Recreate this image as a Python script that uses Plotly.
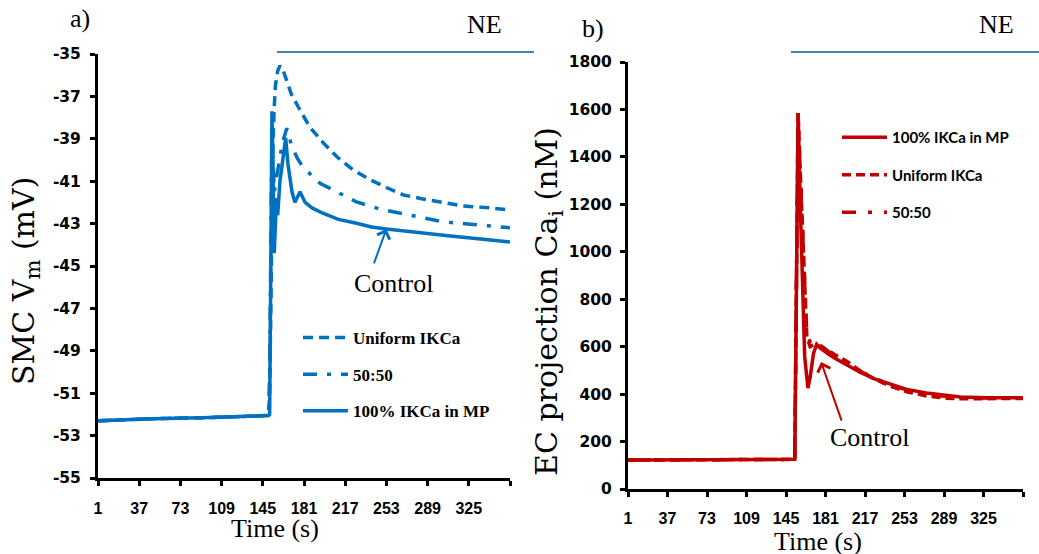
import plotly.graph_objects as go

# ---------------- panel a) : SMC membrane potential (mV) ----------------
t_a_uniform = [1, 50, 100, 150, 151, 152, 153, 154, 155, 156, 158, 160, 163, 166, 170,
               176, 186, 198, 210, 224, 239, 254, 268, 285, 303, 320, 344, 361]
v_a_uniform = [-52.3, -52.2, -52.15, -52.05, -51.0, -47.0, -42.0, -39.0, -37.5, -36.5,
               -35.8, -35.55, -35.8, -36.3, -36.9, -37.5, -38.44, -39.2, -39.86, -40.47,
               -40.94, -41.32, -41.65, -41.84, -42.03, -42.17, -42.26, -42.36]

t_a_5050 = [1, 50, 100, 150, 151, 152, 153, 155, 158, 162, 166, 170, 175, 180, 195, 211,
            227, 247, 265, 285, 303, 324, 344, 361]
v_a_5050 = [-52.3, -52.2, -52.15, -52.05, -50.0, -44.0, -38.6, -41.5, -40.4, -39.2, -38.5,
            -39.3, -39.9, -40.33, -41.1, -41.56, -41.98, -42.31, -42.5, -42.74, -42.92,
            -43.02, -43.11, -43.2]

t_a_mp = [1, 50, 100, 150, 151, 152, 153, 154, 155, 157, 158, 160, 163, 165, 167, 170.5,
          173, 177.5, 182, 188, 197, 211, 226, 240, 253, 283, 309, 344, 361]
v_a_mp = [-52.3, -52.2, -52.15, -52.05, -52.0, -45.0, -37.7, -41.0, -44.4, -41.8, -42.6,
          -41.0, -39.6, -38.96, -40.2, -41.5, -42.0, -41.5, -42.0, -42.26, -42.5, -42.8,
          -42.97, -43.16, -43.25, -43.44, -43.58, -43.77, -43.87]

# ---------------- panel b) : EC projection Ca_i (nM) ----------------
t_b_mp = [1, 50, 100, 150, 153, 154.5, 156, 158, 160, 162, 165, 167, 170, 173, 176, 180,
          185, 190, 197, 205, 212, 225, 242, 255, 273, 290, 304, 330, 361]
c_b_mp = [122, 122, 122, 122, 125, 850, 1585, 1200, 850, 560, 425, 470, 570, 610, 595,
          580, 565, 550, 531, 512, 493, 465, 438, 420, 405, 394, 388, 385, 384]

t_b_uniform = [1, 50, 100, 150, 153, 154.5, 156, 158, 160, 162, 164, 167, 171, 176, 183,
               190, 200, 212, 225, 242, 255, 273, 290, 304, 330, 361]
c_b_uniform = [122, 122, 122, 122, 125, 850, 1585, 1340, 1100, 860, 640, 600, 610, 600,
               585, 565, 540, 500, 465, 430, 410, 392, 383, 380, 380, 382]

t_b_5050 = [1, 50, 100, 150, 153, 154.5, 156, 158, 160, 162, 164, 168, 172, 178, 185,
            195, 212, 242, 273, 304, 330, 361]
c_b_5050 = [122, 122, 122, 122, 125, 850, 1585, 1330, 1080, 850, 650, 610, 620, 600, 575,
            545, 497, 434, 398, 385, 383, 383]

time_ticks = [1, 37, 73, 109, 145, 181, 217, 253, 289, 325, 361]
time_labels = ["1", "37", "73", "109", "145", "181", "217", "253", "289", "325", ""]
vm_ticks = list(range(-55, -34, 2))
vm_labels = [str(v) for v in vm_ticks]
ca_ticks = list(range(0, 1801, 200))
ca_labels = [str(v) for v in ca_ticks]

BLUE = "#0070c0"
RED = "#c00000"
NE_BLUE = "#4a7ebb"
W, H = 1039, 554


def px(x):
    return x / W


def py(y):
    return 1 - y / H


fig = go.Figure()

# panel a traces
fig.add_trace(go.Scatter(x=t_a_uniform, y=v_a_uniform, mode="lines", name="Uniform IKCa",
                         line=dict(color=BLUE, width=3.5, dash="10px,6px"),
                         xaxis="x", yaxis="y", legend="legend", legendgroup="a1", legendrank=1))
fig.add_trace(go.Scatter(x=t_a_5050, y=v_a_5050, mode="lines", name="50:50",
                         line=dict(color=BLUE, width=3.5, dash="14px,10px,4px,10px"),
                         xaxis="x", yaxis="y", legend="legend", legendgroup="a2", legendrank=2))
fig.add_trace(go.Scatter(x=t_a_mp, y=v_a_mp, mode="lines", name="100% IKCa in MP",
                         line=dict(color=BLUE, width=3.5),
                         xaxis="x", yaxis="y", legend="legend", legendgroup="a3", legendrank=3))

# panel b traces
fig.add_trace(go.Scatter(x=t_b_uniform, y=c_b_uniform, mode="lines", name="Uniform IKCa",
                         line=dict(color=RED, width=3.5, dash="9px,5px"),
                         xaxis="x2", yaxis="y2", legend="legend2", legendgroup="b2", legendrank=2))
fig.add_trace(go.Scatter(x=t_b_5050, y=c_b_5050, mode="lines", name="50:50",
                         line=dict(color=RED, width=3.5, dash="14px,12px,4px,12px"),
                         xaxis="x2", yaxis="y2", legend="legend2", legendgroup="b3", legendrank=3))
fig.add_trace(go.Scatter(x=t_b_mp, y=c_b_mp, mode="lines", name="100% IKCa in MP",
                         line=dict(color=RED, width=3.5),
                         xaxis="x2", yaxis="y2", legend="legend2", legendgroup="b1", legendrank=1))

tick_font_x = dict(family="Liberation Sans", size=16, color="black", weight="bold")
tick_font_y = dict(family="DejaVu Sans", size=15.5, color="black", weight="bold")
axis_common = dict(showline=True, linecolor="black", linewidth=3, ticks="outside",
                   ticklen=5, tickwidth=2.5, tickcolor="black", showgrid=False,
                   zeroline=False, fixedrange=True)

fig.update_layout(
    width=W, height=H, margin=dict(l=0, r=0, t=0, b=0, autoexpand=False),
    paper_bgcolor="white", plot_bgcolor="white",
    xaxis=dict(domain=[px(98), px(510)], anchor="y", range=[1, 361],
               tickvals=time_ticks, ticktext=time_labels, tickfont=tick_font_x,
               ticklabelstandoff=9, **axis_common),
    yaxis=dict(domain=[py(478), py(54)], anchor="x", range=[-55, -35],
               tickvals=vm_ticks, ticktext=vm_labels, tickfont=tick_font_y,
               ticklabelstandoff=6, **axis_common),
    xaxis2=dict(domain=[px(628), px(1023)], anchor="y2", range=[1, 361],
                tickvals=time_ticks, ticktext=time_labels, tickfont=tick_font_x,
                ticklabelstandoff=8, **axis_common),
    yaxis2=dict(domain=[py(489), py(62)], anchor="x2", range=[0, 1800],
                tickvals=ca_ticks, ticktext=ca_labels, tickfont=tick_font_y,
                ticklabelstandoff=5, **axis_common),
    legend=dict(x=px(298), y=py(320), xanchor="left", yanchor="top", itemwidth=45,
                font=dict(family="Liberation Serif", size=17, color="black", weight="bold"),
                tracegroupgap=11.5, bgcolor="rgba(0,0,0,0)"),
    legend2=dict(x=px(837), y=py(121), xanchor="left", yanchor="top", itemwidth=45,
                 font=dict(family="Lato", size=15, color="black", weight="bold"),
                 tracegroupgap=15, bgcolor="rgba(0,0,0,0)"),
)

serif = "Liberation Serif"
annotations = [
    dict(text="a)", x=px(80), y=py(18), font=dict(family=serif, size=26)),
    dict(text="b)", x=px(593), y=py(28), font=dict(family=serif, size=26)),
    dict(text="NE", x=px(484), y=py(25), font=dict(family=serif, size=26)),
    dict(text="NE", x=px(996), y=py(25), font=dict(family=serif, size=26)),
    dict(text="Time (s)", x=px(275), y=py(528), font=dict(family=serif, size=26)),
    dict(text="Time (s)", x=px(818), y=py(541), font=dict(family=serif, size=26)),
    dict(text="SMC V<sub>m</sub> (mV)", x=px(25), y=py(281), textangle=-90,
         font=dict(family="DejaVu Serif", size=30)),
    dict(text="EC projection Ca<sub>i</sub> (nM)", x=px(548), y=py(302), textangle=-90,
         font=dict(family="DejaVu Serif", size=30)),
    dict(text="Control", x=px(393), y=py(283), font=dict(family=serif, size=26)),
    dict(text="Control", x=px(869), y=py(437), font=dict(family=serif, size=26)),
]
for a in annotations:
    a.update(xref="paper", yref="paper", showarrow=False, xanchor="center", yanchor="middle")
    a["font"]["color"] = "black"

# arrows from the "Control" labels to the control traces
annotations.append(dict(text="", x=253, y=-43.25, xref="x", yref="y", showarrow=True,
                        ax=-13, ay=36, arrowhead=4, arrowsize=1.3, arrowwidth=2,
                        arrowcolor=BLUE))
annotations.append(dict(text="", x=177, y=535, xref="x2", yref="y2", showarrow=True,
                        ax=21, ay=60, arrowhead=4, arrowsize=1.3, arrowwidth=2,
                        arrowcolor=RED))
fig.update_layout(annotations=annotations)

# NE application bars
fig.update_layout(shapes=[
    dict(type="line", xref="paper", yref="paper", x0=px(277), x1=px(534), y0=py(52), y1=py(52),
         line=dict(color=NE_BLUE, width=2)),
    dict(type="line", xref="paper", yref="paper", x0=px(791), x1=1, y0=py(52), y1=py(52),
         line=dict(color=NE_BLUE, width=2)),
])

fig.write_html("out.html")
